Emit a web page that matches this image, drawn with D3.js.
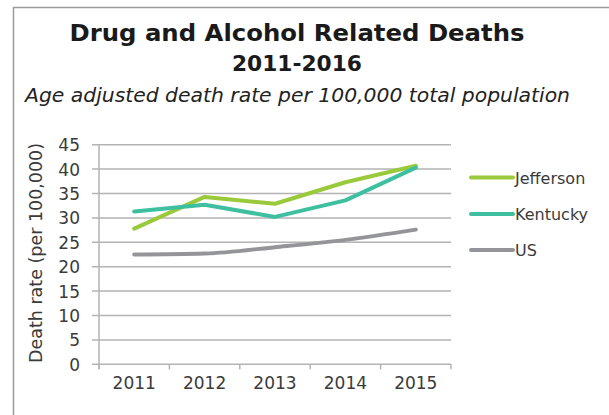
<!DOCTYPE html>
<html><head><meta charset="utf-8">
<script src="https://cdn.jsdelivr.net/npm/d3@7"></script>
<style>body{margin:0;background:#fff}svg{display:block}text{font-family:"DejaVu Sans",sans-serif}</style>
</head><body><svg id="c" width="609" height="415"></svg>
<script>
const years = ["2011","2012","2013","2014","2015"];
const jefferson = [27.8, 34.3, 32.9, 37.3, 40.7];
const kentucky = [31.3, 32.7, 30.2, 33.6, 40.3];
const us = [22.5, 22.7, 24.0, 25.5, 27.6];
const yTicks = [0,5,10,15,20,25,30,35,40,45];
const seriesNames = ["Jefferson","Kentucky","US"];
const colors = ["#9ACA3C","#3DBFA0","#939598"];

const svg = d3.select("#c");
// frame
svg.append("path").attr("d","M13.5,415 V7.5 H609").attr("fill","none").attr("stroke","#9a9a9a").attr("stroke-width",1.5);

svg.append("text").attr("x",297).attr("y",41).attr("text-anchor","middle").attr("textLength",455).attr("lengthAdjust","spacingAndGlyphs")
  .attr("font-size",23).attr("font-weight","bold").attr("fill","#1a1a1a").text("Drug and Alcohol Related Deaths");
svg.append("text").attr("x",297).attr("y",71).attr("text-anchor","middle").attr("textLength",130).attr("lengthAdjust","spacingAndGlyphs")
  .attr("font-size",21).attr("font-weight","bold").attr("fill","#1a1a1a").text("2011-2016");
svg.append("text").attr("x",25).attr("y",102).attr("textLength",545).attr("lengthAdjust","spacingAndGlyphs")
  .attr("font-size",20).attr("font-style","italic").attr("font-weight",200).attr("fill","#222").text("Age adjusted death rate per 100,000 total population");

const x = d3.scaleBand().domain(years).range([99,451]).paddingInner(0).paddingOuter(0);
const y = d3.scaleLinear().domain([0,45]).range([364.3,144.7]);

// gridlines
svg.append("g").selectAll("line").data(yTicks).join("line")
  .attr("x1",92).attr("x2",451).attr("y1",d=>y(d)).attr("y2",d=>y(d))
  .attr("stroke","#b3b3b3").attr("stroke-width",1.5);
// y axis line
svg.append("line").attr("x1",99).attr("x2",99).attr("y1",y(45)).attr("y2",y(0)+5)
  .attr("stroke","#b3b3b3").attr("stroke-width",1.5);
// x ticks
const xt = years.map(d=>x(d)).concat([451]);
svg.append("g").selectAll("line").data(xt).join("line")
  .attr("x1",d=>d).attr("x2",d=>d).attr("y1",y(0)).attr("y2",y(0)+5)
  .attr("stroke","#b3b3b3").attr("stroke-width",1.5);

// y tick labels
svg.append("g").selectAll("text").data(yTicks).join("text")
  .attr("x",80).attr("y",d=>y(d)+6.5).attr("text-anchor","end")
  .attr("font-size",17).attr("fill","#3a3a3a").text(d=>d);
// x labels
svg.append("g").selectAll("text").data(years).join("text")
  .attr("x",d=>x(d)+x.bandwidth()/2).attr("y",389).attr("text-anchor","middle")
  .attr("font-size",17).attr("fill","#3a3a3a").text(d=>d);
// y title
svg.append("text").attr("transform","translate(42,253) rotate(-90)").attr("text-anchor","middle")
  .attr("textLength",220).attr("lengthAdjust","spacingAndGlyphs")
  .attr("font-size",17).attr("fill","#3a3a3a").text("Death rate (per 100,000)");

const data = [jefferson, kentucky, us];
const curves = [d3.curveLinear, d3.curveLinear, d3.curveMonotoneX];
data.forEach((vals,i)=>{
  const line = d3.line().x((d,j)=>x(years[j])+x.bandwidth()/2).y(d=>y(d)).curve(curves[i]);
  svg.append("path").datum(vals).attr("d",line).attr("fill","none")
    .attr("stroke",colors[i]).attr("stroke-width",4).attr("stroke-linecap","round").attr("stroke-linejoin","round");
});
// legend
const ly = [177.5,214,250];
seriesNames.forEach((n,i)=>{
  svg.append("line").attr("x1",471).attr("x2",513).attr("y1",ly[i]).attr("y2",ly[i])
    .attr("stroke",colors[i]).attr("stroke-width",4).attr("stroke-linecap","round");
  svg.append("text").attr("x",515).attr("y",ly[i]+6).attr("font-size",16).attr("fill","#3a3a3a").text(n);
});
</script></body></html>
